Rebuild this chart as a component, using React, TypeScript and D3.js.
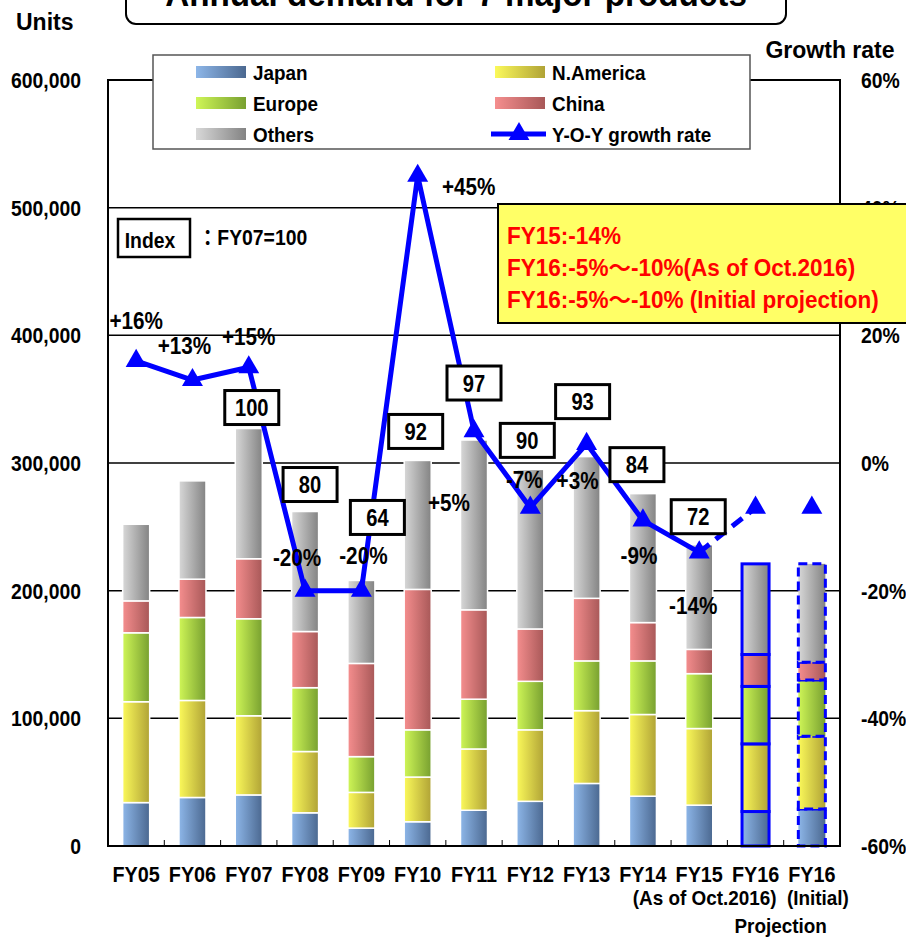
import React from 'react';
import * as d3 from 'd3';

// ---- data -------------------------------------------------------------
const categories = [
  'FY05', 'FY06', 'FY07', 'FY08', 'FY09', 'FY10', 'FY11', 'FY12', 'FY13', 'FY14', 'FY15',
  'FY16 (As of Oct.2016)', 'FY16 (Initial)',
];
const tickLabels = ['FY05', 'FY06', 'FY07', 'FY08', 'FY09', 'FY10', 'FY11', 'FY12', 'FY13', 'FY14', 'FY15', 'FY16', 'FY16'];

// units per region
const japan = [34000, 38000, 40000, 26000, 14000, 19000, 28000, 35000, 49000, 39000, 32000, 27000, 29000];
const nAmerica = [79000, 76000, 62000, 48000, 28000, 35000, 48000, 56000, 57000, 64000, 60000, 53000, 57000];
const europe = [54000, 65000, 76000, 50000, 28000, 37000, 39000, 38000, 39000, 42000, 43000, 45000, 44000];
const china = [25000, 30000, 47000, 44000, 73000, 110000, 70000, 41000, 49000, 30000, 19000, 25000, 14000];
const others = [60000, 77000, 102000, 94000, 65000, 101000, 133000, 125000, 111000, 101000, 82000, 71000, 77000];

// year-on-year growth rate, %
const growthRate = [16, 13, 15, -20, -20, 45, 5, -7, 3, -9, -14, -7, -7];

const seriesNames = ['Japan', 'N.America', 'Europe', 'China', 'Others'];
const leftTicks = [0, 100000, 200000, 300000, 400000, 500000, 600000];
const rightTicks = [-60, -40, -20, 0, 20, 40, 60];
const indexBase = 'FY07';
const noteLines = ['FY15:-14%', 'FY16:-5%～-10%(As of Oct.2016)', 'FY16:-5%～-10% (Initial projection)'];

// ---- styling / layout -------------------------------------------------
const W = 906;
const H = 941;
const X0 = 108;
const X1 = 840;
const Y_TOP = 80;
const Y_BOTTOM = 846;
const BLUE = '#0000ff';
const FONT = "'Liberation Sans', Arial, 'Noto Sans CJK JP', sans-serif";

const gradients: Record<string, [string, string]> = {
  Japan: ['#8db6e8', '#4b6890'],
  'N.America': ['#fbf95a', '#b0a336'],
  Europe: ['#cff657', '#78a030'],
  China: ['#f58e8e', '#a85858'],
  Others: ['#d8d8d8', '#838383'],
};

// label placement (pixels) relative to each growth marker
const growthLabelOffsets: [number, number][] = [
  [0, -40], [-8, -35], [0, -31], [-8, -33], [2, -35], [51, 11],
  [-25, 71], [-6, -28], [-9, 37], [-4, 35], [-6, 53],
];
// index box placement relative to the top of each bar
const indexBoxOffsets: ([number, number] | null)[] = [
  null, null, [3, -21], [5, -27], [16, -63], [-2, -29], [0, -57], [-3, -29], [-4, -55], [-6, -29], [-1, -28], null, null,
];

function Label({ x, y, text, size = 22, sx = 0.88, anchor = 'middle', fill = '#000' }: any) {
  return (
    <text
      transform={`translate(${x},${y}) scale(${sx},1)`}
      fontSize={size}
      fontWeight="bold"
      fontFamily={FONT}
      textAnchor={anchor}
      fill={fill}
    >
      {text}
    </text>
  );
}

export default function App() {
  const rows = categories.map((c, i) => ({
    category: c,
    Japan: japan[i],
    'N.America': nAmerica[i],
    Europe: europe[i],
    China: china[i],
    Others: others[i],
  }));
  const stacked = d3.stack<any>().keys(seriesNames)(rows);
  const totals = rows.map((r) => seriesNames.reduce((s, k) => s + (r as any)[k], 0));
  const baseTotal = totals[categories.indexOf(indexBase)];

  const x = d3.scaleBand().domain(categories).range([X0, X1]).paddingInner(0.52).paddingOuter(0.26);
  const y = d3.scaleLinear().domain([0, 600000]).range([Y_BOTTOM, Y_TOP]);
  const yr = d3.scaleLinear().domain([-60, 60]).range([Y_BOTTOM, Y_TOP]);
  const bw = x.bandwidth();
  const step = x.step();
  const cx = (i: number) => (x(categories[i]) as number) + bw / 2;

  const pts: [number, number][] = growthRate.map((g, i) => [cx(i), yr(g)]);
  const line = d3.line();
  const solidPath = line(pts.slice(0, 11)) as string;
  const dashedPath = line(pts.slice(10, 12)) as string;
  const tri = d3.symbol().type(d3.symbolTriangle).size(190)() as string;

  const fmt = d3.format(',');

  return (
    <svg width={W} height={H} style={{ position: 'absolute', left: 0, top: 0, background: '#fff' }}>
      <defs>
        {seriesNames.map((k, i) => (
          <linearGradient key={k} id={`g${i}`} x1="0" x2="1" y1="0" y2="0">
            <stop offset="0" stopColor={gradients[k][0]} />
            <stop offset="1" stopColor={gradients[k][1]} />
          </linearGradient>
        ))}
      </defs>
      <rect x={0} y={0} width={W} height={H} fill="#fff" />

      {/* title */}
      <rect x={126} y={-30} width={660} height={54} rx={10} fill="#fff" stroke="#000" strokeWidth={2} />
      <Label x={456} y={6} text="Annual demand for 7 major products" size={35} sx={0.95} />

      <Label x={16} y={30} text="Units" size={23} sx={1} anchor="start" />
      <Label x={830} y={58} text="Growth rate" size={23} sx={1} />

      {/* gridlines */}
      {leftTicks.slice(1, -1).map((t) => (
        <line key={t} x1={X0} x2={X1} y1={y(t)} y2={y(t)} stroke="#000" strokeWidth={1.5} />
      ))}

      {/* stacked bars */}
      {stacked.map((layer, si) =>
        layer.map((d, i) => {
          const projected = i >= 11;
          return (
            <rect
              key={`${si}-${i}`}
              x={x(categories[i])}
              y={y(d[1])}
              width={bw}
              height={y(d[0]) - y(d[1])}
              fill={`url(#g${si})`}
              stroke={projected ? BLUE : '#fff'}
              strokeWidth={projected ? 3 : 1.5}
              strokeDasharray={i === 12 ? '9 5' : undefined}
            />
          );
        })
      )}

      {/* frame */}
      <rect x={X0} y={Y_TOP} width={X1 - X0} height={Y_BOTTOM - Y_TOP} fill="none" stroke="#000" strokeWidth={2} />
      {categories.slice(1).map((c, i) => (
        <line key={c} x1={X0 + step * (i + 1)} x2={X0 + step * (i + 1)} y1={Y_BOTTOM} y2={Y_BOTTOM - 6} stroke="#000" strokeWidth={1} />
      ))}

      {/* left axis labels */}
      {leftTicks.map((t) => (
        <Label key={t} x={81} y={y(t) + 8} text={fmt(t)} anchor="end" />
      ))}
      {/* right axis labels */}
      {rightTicks.map((t) => (
        <Label key={t} x={861} y={yr(t) + 8} text={`${t}%`} anchor="start" />
      ))}

      {/* x labels */}
      {tickLabels.map((t, i) => (
        <Label key={i} x={cx(i)} y={882} text={t} sx={0.9} />
      ))}
      <Label x={cx(11) + 21} y={905} text="(As of Oct.2016)" size={21} sx={0.9} anchor="end" />
      <Label x={cx(12) + 6} y={905} text="(Initial)" size={21} sx={0.9} />
      <Label x={(cx(11) + cx(12)) / 2 - 3} y={933} text="Projection" size={21} sx={0.9} />

      {/* legend */}
      <rect x={153} y={55} width={597} height={94} fill="#fff" stroke="#555" strokeWidth={1.5} />
      {seriesNames.map((k, i) => {
        const col = i % 2;
        const row = Math.floor(i / 2);
        const lx = col === 0 ? 196 : 495;
        const ly = 72 + row * 31;
        return (
          <g key={k}>
            <rect x={lx} y={ly - 6} width={50} height={12} fill={`url(#g${i})`} />
            <Label x={lx + 57} y={ly + 7.5} text={k} size={21} sx={0.9} anchor="start" />
          </g>
        );
      })}
      <line x1={491} x2={546} y1={134} y2={134} stroke={BLUE} strokeWidth={5} />
      <path d={tri} transform="translate(519,134)" fill={BLUE} />
      <Label x={552} y={141.5} text="Y-O-Y growth rate" size={21} sx={0.9} anchor="start" />

      {/* index note */}
      <rect x={118} y={219} width={72} height={38} fill="#fff" stroke="#000" strokeWidth={2.5} />
      <Label x={150} y={248} text="Index" size={22} sx={0.88} />
      <Label x={198} y={245} text="：FY07=100" size={22} sx={0.88} anchor="start" />

      {/* growth rate line */}
      <path d={solidPath} fill="none" stroke={BLUE} strokeWidth={5} strokeLinejoin="round" />
      <path d={dashedPath} fill="none" stroke={BLUE} strokeWidth={5} strokeDasharray="13 8" />
      {pts.map((p, i) => (
        <path key={i} d={tri} transform={`translate(${p[0]},${p[1]})`} fill={BLUE} />
      ))}

      {/* growth labels */}
      {growthLabelOffsets.map((o, i) => (
        <Label
          key={i}
          x={pts[i][0] + o[0]}
          y={pts[i][1] + o[1] + 8.5}
          text={`${growthRate[i] > 0 ? '+' : ''}${growthRate[i]}%`}
          size={23}
          sx={0.9}
        />
      ))}

      {/* index boxes */}
      {indexBoxOffsets.map((o, i) => {
        if (!o) return null;
        const bx = cx(i) + o[0];
        const by = y(totals[i]) + o[1];
        return (
          <g key={i}>
            <rect x={bx - 27} y={by - 17} width={54} height={34} fill="#fff" stroke="#000" strokeWidth={3} />
            <Label x={bx} y={by + 8.5} text={String(Math.round((totals[i] / baseTotal) * 100))} size={24} sx={0.84} />
          </g>
        );
      })}

      {/* growth note */}
      <rect x={498} y={204} width={420} height={119} fill="#ffff66" stroke="#000" strokeWidth={2} />
      {noteLines.map((t, i) => (
        <Label key={i} x={507} y={244 + i * 32} text={t} size={23} sx={0.98} anchor="start" fill="#ff0000" />
      ))}
    </svg>
  );
}
